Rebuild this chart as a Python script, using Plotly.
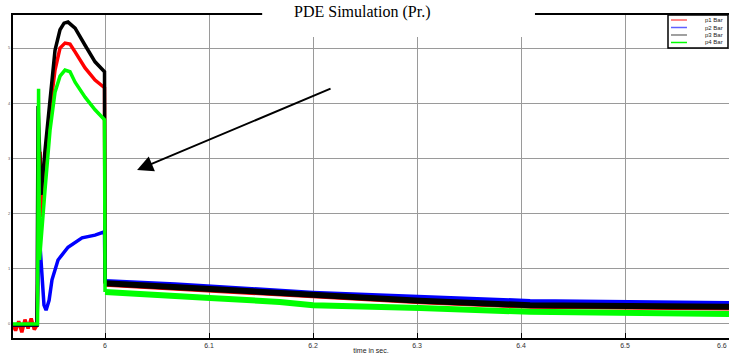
import plotly.graph_objects as go

# ---- data ----
t_p1 = [5.9115, 5.914, 5.917, 5.92, 5.923, 5.926, 5.929, 5.932, 5.9346, 5.9356, 5.9375, 5.9394, 5.9433,
        5.9471, 5.9519, 5.9567, 5.9615, 5.9663, 5.9712, 5.9808, 5.9904, 5.9995,
        6.0, 6.0673, 6.101, 6.168, 6.2, 6.303, 6.4087, 6.495, 6.6]
p1 = [-0.02, -0.12, 0.05, -0.15, 0.08, -0.08, 0.1, -0.1, -0.02, 1.4, 3.12, 1.94, 2.97,
      3.88, 4.60, 5.00, 5.09, 5.07, 4.93, 4.64, 4.42, 4.28,
      0.73, 0.66, 0.61, 0.55, 0.50, 0.41, 0.33, 0.32, 0.30]

t_p2 = [5.9115, 5.9346, 5.9365, 5.9385, 5.9413, 5.9433, 5.9462, 5.949, 5.9548, 5.9644, 5.9779,
        5.9904, 5.9995, 6.0, 6.0673, 6.2, 6.303, 6.4087, 6.6]
p2 = [-0.02, -0.02, 1.70, 1.16, 0.34, 0.25, 0.43, 0.80, 1.16, 1.39, 1.56,
      1.61, 1.67, 0.76, 0.70, 0.55, 0.47, 0.40, 0.36]

t_p3 = [5.9115, 5.9346, 5.9356, 5.9385, 5.9423, 5.9471, 5.9519, 5.9567, 5.9606, 5.9644, 5.9712,
        5.9808, 5.9904, 5.9995, 6.0, 6.0673, 6.101, 6.168, 6.2, 6.303, 6.4087, 6.495, 6.6]
p3 = [-0.02, -0.02, 3.95, 2.34, 3.15, 4.06, 4.96, 5.33, 5.45, 5.47, 5.36,
      5.05, 4.75, 4.57, 0.74, 0.67, 0.62, 0.56, 0.51, 0.42, 0.34, 0.33, 0.31]

t_p4 = [5.9115, 5.9351, 5.9361, 5.937, 5.9423, 5.9471, 5.9519, 5.9567, 5.9615, 5.9663, 5.9712,
        5.9808, 5.9904, 5.9995, 6.0, 6.0673, 6.101, 6.168, 6.2, 6.303, 6.4087, 6.6]
p4 = [0.0, 0.0, 4.26, 1.16, 2.43, 3.51, 4.20, 4.49, 4.60, 4.57, 4.38,
      4.11, 3.88, 3.70, 0.58, 0.49, 0.47, 0.40, 0.34, 0.29, 0.22, 0.18]

names = ["p1 Bar", "p2 Bar", "p3 Bar", "p4 Bar"]
colors = ["#ff0000", "#0000ff", "#000000", "#00ff00"]
legend_colors = ["#ff6060", "#6060ff", "#808080", "#00ff00"]
x_ticks = [6.0, 6.1, 6.2, 6.3, 6.4, 6.5, 6.6]
x_tick_text = ["6", "6.1", "6.2", "6.3", "6.4", "6.5", "6.6"]
y_ticks = [0, 1, 2, 3, 4, 5]

series = [(t_p1, p1), (t_p2, p2), (t_p3, p3), (t_p4, p4)]

fig = go.Figure()
for (tt, vv), name, col in zip(series, names, colors):
    k = next(i for i, x in enumerate(tt) if x >= 6.0)
    fig.add_trace(go.Scatter(x=tt[:k + 1], y=vv[:k + 1], mode="lines", name=name,
                             line=dict(color=col, width=3.5), showlegend=False))
    fig.add_trace(go.Scatter(x=tt[k:], y=vv[k:], mode="lines", name=name,
                             line=dict(color=col, width=6), showlegend=False))

fig.update_layout(
    width=729, height=356,
    margin=dict(l=13, r=0, t=15, b=18),
    paper_bgcolor="white", plot_bgcolor="white",
    font=dict(family="Liberation Sans, Arial", color="#222"),
    showlegend=False,
    xaxis=dict(range=[5.9115, 6.6], tickvals=x_ticks[:-1], ticktext=x_tick_text[:-1],
               showgrid=True, gridcolor="#9a9a9a", gridwidth=1,
               showline=True, linecolor="black", linewidth=2, mirror=True,
               ticks="inside", ticklen=5, tickcolor="black",
               tickfont=dict(size=7, color="#333"), zeroline=False,
               title=dict(text="time in sec.", font=dict(size=7, color="#222"), standoff=0)),
    yaxis=dict(range=[-0.254, 5.598], tickvals=y_ticks,
               showgrid=True, gridcolor="#9a9a9a", gridwidth=1,
               showline=True, linecolor="black", linewidth=2, mirror=False,
               ticks="", tickfont=dict(size=4, color="#555"), zeroline=False),
)

# last x tick label, kept inside the right edge
fig.add_annotation(text=x_tick_text[-1], x=x_ticks[-1], xref="x", y=-0.005, yref="paper",
                   yanchor="top", xanchor="right", showarrow=False,
                   font=dict(size=7, color="#333"))

# white title box interrupting the top border
fig.add_shape(type="rect", xref="paper", yref="paper",
              x0=0.348, x1=0.729, y0=0.932, y1=1.05,
              fillcolor="white", line=dict(width=0), layer="above")
fig.add_annotation(text="PDE Simulation (Pr.)", xref="paper", yref="paper",
                   x=0.4874, y=1.009, xanchor="center", yanchor="middle", showarrow=False,
                   font=dict(family="Liberation Serif, Times New Roman", size=16, color="black"))

# legend box (drawn manually to match the compact layout)
fig.add_shape(type="rect", xref="paper", yref="paper", x0=0.9148, x1=0.9986, y0=0.8978, y1=1.0,
              fillcolor="white", line=dict(color="black", width=1.5), layer="above")
for i, (name, col) in enumerate(zip(names, legend_colors)):
    yy = 0.9845 - i * 0.0232
    fig.add_shape(type="line", xref="paper", yref="paper", x0=0.919, x1=0.9413, y0=yy, y1=yy,
                  line=dict(color=col, width=1.5), layer="above")
    fig.add_annotation(text=name, xref="paper", yref="paper", x=0.9944, y=yy,
                       xanchor="right", yanchor="middle", showarrow=False,
                       font=dict(size=6, color="#222"))

# arrow
fig.add_annotation(x=6.0308, y=2.79, ax=6.2183, ay=4.275, xref="x", yref="y",
                   axref="x", ayref="y", showarrow=True, arrowhead=2, arrowsize=1.6,
                   arrowwidth=2, arrowcolor="black", text="")

fig.write_html("out.html")
